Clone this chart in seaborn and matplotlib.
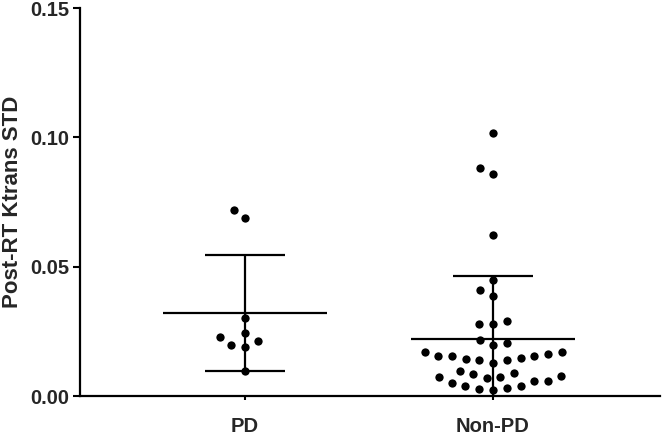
import numpy as np
import pandas as pd
import seaborn as sns
import matplotlib.pyplot as plt

# values
groups = ["PD", "Non-PD"]
pd_vals = [0.0721, 0.0688, 0.0302, 0.0243, 0.0230, 0.0212, 0.0197, 0.0191, 0.0098]
nonpd_vals = [0.1017, 0.0881, 0.0859, 0.0623, 0.0449, 0.0409, 0.0388, 0.0291, 0.0280,
              0.0280, 0.0218, 0.0206, 0.0197,
              0.0170, 0.0161, 0.0155, 0.0148, 0.0141, 0.0129, 0.0141, 0.0143, 0.0156,
              0.0156, 0.0170,
              0.0090, 0.0079, 0.0075, 0.0084, 0.0097,
              0.0070, 0.0058, 0.0040, 0.0030, 0.0024, 0.0027, 0.0038, 0.0050, 0.0058,
              0.0072]
y_ticks = [0.00, 0.05, 0.10, 0.15]

df = pd.DataFrame({
    "group": ["PD"] * len(pd_vals) + ["Non-PD"] * len(nonpd_vals),
    "value": pd_vals + nonpd_vals,
})

sns.set_style("ticks")
plt.rcParams["font.family"] = ["Liberation Sans", "DejaVu Sans"]
plt.rcParams["font.weight"] = "bold"

fig = plt.figure(figsize=(6.64, 4.45), dpi=100)
ax = fig.add_axes([0.1205, 0.110, 0.8735, 0.872])

# white edge keeps the swarm spacing wider than the visible dot
sns.swarmplot(data=df, x="group", y="value", order=groups, color="black",
              size=7.8, linewidth=1.8, edgecolor="white", ax=ax, zorder=2)

# mean +/- SD
stats = df.groupby("group")["value"].agg(["mean", "std"]).reindex(groups)
for i, (m, s) in enumerate(zip(stats["mean"], stats["std"])):
    ax.hlines(m, i - 0.33, i + 0.33, color="black", lw=1.6, zorder=3)
    ax.errorbar(i, m, yerr=s, fmt="none", ecolor="black", elinewidth=1.6,
                capsize=29, capthick=1.6, zorder=3)

ax.set_xlim(-0.665, 1.673)
ax.set_ylim(0, 0.15)
ax.set_yticks(y_ticks)
ax.set_yticklabels([f"{t:.2f}" for t in y_ticks])
ax.set_xlabel("")
ax.set_ylabel("Post-RT Ktrans STD", fontsize=16, fontweight="bold", labelpad=5)
ax.tick_params(axis="both", labelsize=14.5, width=1.5, color="black")
ax.tick_params(axis="y", length=5, pad=3)
ax.tick_params(axis="x", length=3, pad=12)
for lab in ax.get_xticklabels() + ax.get_yticklabels():
    lab.set_fontweight("bold")
for side in ["left", "bottom"]:
    ax.spines[side].set_linewidth(1.6)
    ax.spines[side].set_color("black")
sns.despine(ax=ax)

fig.savefig("out.png", dpi=100)
